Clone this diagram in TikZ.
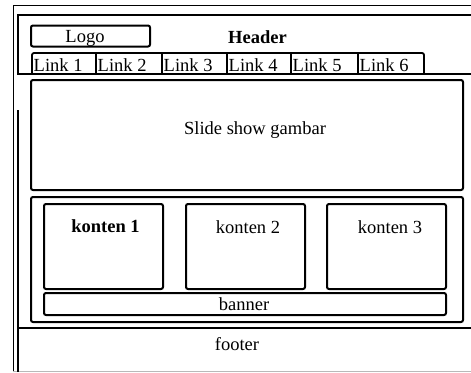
\documentclass[tikz,border=0pt]{standalone}
\usepackage{fontspec}
\setmainfont{Liberation Serif}
\begin{document}
\begin{tikzpicture}[x=1pt,y=-1pt,
  font=\fontsize{18.5}{20}\selectfont,
  box/.style={draw, line width=2pt, rounded corners=2pt, inner sep=0pt},
  thick line/.style={line width=2pt},
  txt/.style={inner sep=0pt, anchor=base}]
\useasboundingbox (0,0) rectangle (471,372);

% sheet edges
\draw[line width=0.9pt] (13,372) -- (13,5) -- (471,5);
\draw[gray!55, line width=1pt] (13,371.5) -- (471,371.5);

% header band
\draw[thick line] (471,15) -- (17.5,15) -- (17.5,74) -- (471,74);
\node[box, minimum width=119pt, minimum height=21pt] (logobox) at (90.5,36) {};
\node[txt] (logo) at (85,42) {Logo};
\node[txt, font=\fontsize{18.5}{20}\selectfont\bfseries] (header) at (257.5,43) {Header};

% navigation tabs
\draw[line width=1.8pt, rounded corners=2pt] (32,74) -- (32,53) -- (424,53) -- (424,74);
\foreach \x in {96,162,227,291,358}
  \draw[line width=1.8pt] (\x,53) -- (\x,74);
\node[txt, anchor=base west] (l1) at (33.5,71) {Link 1};
\node[txt, anchor=base west] (l2) at (97.5,71) {Link 2};
\node[txt, anchor=base west] (l3) at (163.5,71) {Link 3};
\node[txt, anchor=base west] (l4) at (228.5,71) {Link 4};
\node[txt, anchor=base west] (l5) at (292.5,71) {Link 5};
\node[txt, anchor=base west] (l6) at (359.5,71) {Link 6};

% body
\draw[thick line] (17.5,110) -- (17.5,328);
\node[box, minimum width=432pt, minimum height=110pt] (slide) at (247,135) {};
\node[txt] (slidetxt) at (255,134) {Slide show gambar};

\node[box, minimum width=432pt, minimum height=125pt] (content) at (247,259.5) {};
\node[box, minimum width=119pt, minimum height=85pt] (k1) at (103.5,246.5) {};
\node[box, minimum width=119pt, minimum height=85pt] (k2) at (245.5,246.5) {};
\node[box, minimum width=119pt, minimum height=85pt] (k3) at (386.5,246.5) {};
\node[txt, font=\fontsize{18.5}{20}\selectfont\bfseries] (k1txt) at (105.5,232) {konten 1};
\node[txt] (k2txt) at (248,233) {konten 2};
\node[txt] (k3txt) at (390,233) {konten 3};
\node[box, minimum width=402pt, minimum height=22pt] (banner) at (245,304) {};
\node[txt] (bannertxt) at (244,310) {banner};

% footer
\draw[thick line] (471,328) -- (17.5,328) -- (17.5,372);
\node[txt] (footer) at (237,350) {footer};
\end{tikzpicture}
\end{document}
